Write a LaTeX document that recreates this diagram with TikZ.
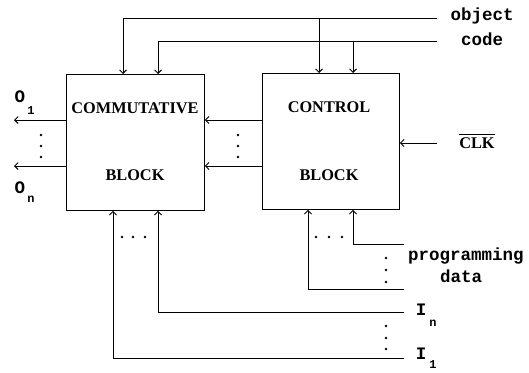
\documentclass[tikz,border=0pt]{standalone}
\usepackage{fontspec}
\setmainfont{Liberation Serif}
\setmonofont{Liberation Mono}
\usetikzlibrary{arrows.meta}
\begin{document}
\begin{tikzpicture}[x=1pt,y=-1pt,line width=0.9pt,
  >={Straight Barb[length=3.5pt,width=7pt]},
  blockbox/.style={draw,inner sep=0pt,anchor=north west},
  blabel/.style={font=\fontsize{16.3}{18}\selectfont\bfseries,inner sep=0pt},
  mlabel/.style={font=\fontsize{17.5}{19}\selectfont\ttfamily\bfseries,inner sep=0pt},
  slabel/.style={font=\fontsize{12}{13}\selectfont\ttfamily\bfseries,inner sep=0pt},
  dotmark/.style={fill,circle,inner sep=0pt,minimum size=2.6pt}]
\useasboundingbox (0,0) rectangle (529,372);

% blocks
\node[blockbox,minimum width=138pt,minimum height=136pt] (comm) at (66,74) {};
\node[blockbox,minimum width=137pt,minimum height=136pt] (ctrl) at (262,73) {};

\node[blabel] (t1) at (135,108) {COMMUTATIVE};
\node[blabel] (t2) at (135,175) {BLOCK};
\node[blabel] (t3) at (329,107) {CONTROL};
\node[blabel] (t4) at (329,175) {BLOCK};

% object code
\node[mlabel] (lobj) at (482,16) {object};
\node[mlabel] (lcode) at (482,39) {code};
\coordinate (objE) at (437,18);
\coordinate (codeE) at (437,41);
\coordinate (objJ) at (319,18);
\coordinate (codeJ) at (353,41);
\draw[->] (objE) -| (comm.north west -| 123,0);
\draw[->] (codeE) -| (comm.north west -| 158,0);
\draw[->] (objJ) -- (ctrl.north west -| objJ);
\draw[->] (codeJ) -- (ctrl.north west -| codeJ);

% CLK
\node[blabel] (clk) at (477,143) {CLK};
\draw[line width=1pt] ([yshift=3pt]clk.north west) -- ([yshift=3pt]clk.north east);
\coordinate (clkE) at (437,143);
\draw[->] (clkE) -- (ctrl.east |- clkE);

% between blocks
\draw[->] (ctrl.west |- 0,120) -- (comm.east |- 0,120);
\draw[->] (ctrl.west |- 0,166) -- (comm.east |- 0,166);
\node[dotmark] (d1) at (238,135) {};
\node[dotmark] (d2) at (238,146) {};
\node[dotmark] (d3) at (238,157) {};

% outputs
\coordinate (o1E) at (14,120);
\coordinate (onE) at (14,166);
\draw[->] (comm.west |- o1E) -- (o1E);
\draw[->] (comm.west |- onE) -- (onE);
\node[dotmark] (d4) at (41,135) {};
\node[dotmark] (d5) at (41,146) {};
\node[dotmark] (d6) at (41,157) {};
\node[mlabel] (lo1) at (20,97) {O};
\node[slabel] (lo1s) at (31,111) {1};
\node[mlabel] (lon) at (20,188) {O};
\node[slabel] (lons) at (31,199) {n};

% programming data
\coordinate (p1) at (404,244);
\coordinate (p2) at (404,289);
\draw[->] (p1) -| (ctrl.south west -| 353,0);
\draw[->] (p2) -| (ctrl.south west -| 308,0);
\node[dotmark] (d7) at (316,237) {};
\node[dotmark] (d8) at (329,237) {};
\node[dotmark] (d9) at (342,237) {};
\node[dotmark] (d10) at (386,258) {};
\node[dotmark] (d11) at (386,270) {};
\node[dotmark] (d12) at (386,282) {};
\node[mlabel] (lprog) at (466,256) {programming};
\node[mlabel] (ldata) at (461,276) {data};

% inputs
\coordinate (in) at (404,312);
\coordinate (i1) at (404,358);
\draw[->] (in) -| (comm.south west -| 158,0);
\draw[->] (i1) -| (comm.south west -| 113,0);
\node[dotmark] (d13) at (122,237) {};
\node[dotmark] (d14) at (133,237) {};
\node[dotmark] (d15) at (145,237) {};
\node[dotmark] (d16) at (386,326) {};
\node[dotmark] (d17) at (386,338) {};
\node[dotmark] (d18) at (386,349) {};
\node[mlabel] (lin) at (421,310) {I};
\node[slabel] (lins) at (433,323) {n};
\node[mlabel] (li1) at (421,354) {I};
\node[slabel] (li1s) at (433,365) {1};
\end{tikzpicture}
\end{document}
